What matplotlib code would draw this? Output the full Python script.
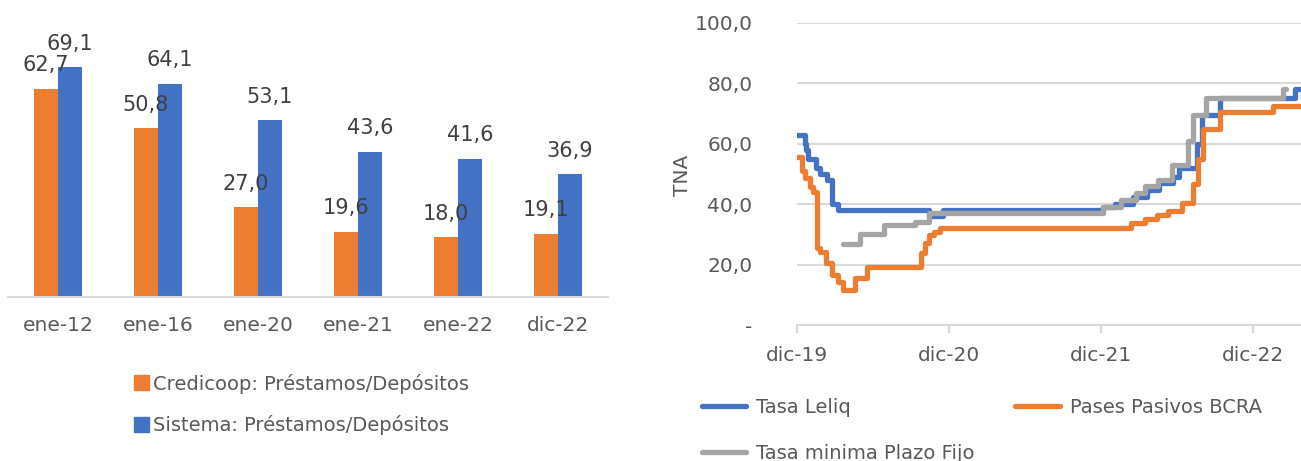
import matplotlib.pyplot as plt
from matplotlib.patches import Patch

# Left chart: loans / deposits ratio
categorias = ['ene-12', 'ene-16', 'ene-20', 'ene-21', 'ene-22', 'dic-22']
credicoop = [62.7, 50.8, 27.0, 19.6, 18.0, 19.1]
sistema = [69.1, 64.1, 53.1, 43.6, 41.6, 36.9]

# Right chart: rates (months counted from dic-19)
leliq_mes = [0, 0.6, 0.75, 0.9, 1.5, 1.8, 2.4, 2.8, 3.2, 10.4, 11.55, 24.2, 25.1,
             26.5, 27.6, 28.6, 29.7, 30.2, 31.6, 32.0, 33.4, 39.3, 39.8]
leliq_tna = [63, 60, 58, 55, 52, 50, 48, 40, 38, 36, 38, 39, 40,
             42.5, 44.5, 47, 49, 52, 60, 69.5, 75, 78, 78]

pases_mes = [0, 0.4, 0.6, 1.0, 1.3, 1.6, 1.8, 2.3, 2.8, 3.2, 3.6, 4.6, 5.5, 9.8,
             10.1, 10.4, 10.8, 11.3, 26.4, 27.5, 28.4, 29.3, 30.4, 31.3, 31.7,
             32.1, 33.4, 37.6, 39.8]
pases_tna = [55.5, 51, 48.5, 45.5, 44, 25.5, 24, 20.5, 16.5, 14.3, 11.6, 15.4, 19.3, 23.8,
             27, 29.8, 30.9, 32, 33.6, 34.9, 36.4, 37.8, 40.2, 46.8, 55,
             65, 70.5, 72.5, 72.5]

pf_mes = [3.65, 5.0, 6.9, 9.3, 10.4, 24.2, 25.6, 26.8, 27.5, 28.5, 29.6, 30.9,
          31.3, 32.3, 38.4, 38.65]
pf_tna = [26.8, 30.2, 33, 34.2, 37, 39, 41.5, 43.5, 46, 48, 53, 61,
          69.5, 75, 78, 78]

x_ticks = [0, 12, 24, 36]
x_labels = ['dic-19', 'dic-20', 'dic-21', 'dic-22']
y_ticks = [0, 20, 40, 60, 80, 100]
y_labels = ['-', '20,0', '40,0', '60,0', '80,0', '100,0']

NARANJA = '#ED7D31'
AZUL = '#4472C4'
GRIS = '#A5A5A5'
TXT = '#595959'

plt.rcParams['font.family'] = 'DejaVu Sans'

fig = plt.figure(figsize=(13.01, 4.61), dpi=100)

# ---- bar chart ----
ax1 = fig.add_axes([8 / 1301, (461 - 297) / 461, 600 / 1301, 297 / 461])
pos = list(range(len(categorias)))
w = 0.24
b1 = ax1.bar([p - w / 2 for p in pos], credicoop, w, color=NARANJA)
b2 = ax1.bar([p + w / 2 for p in pos], sistema, w, color=AZUL)
for bars, vals in ((b1, credicoop), (b2, sistema)):
    for rect, v in zip(bars, vals):
        ax1.annotate(f'{v:.1f}'.replace('.', ','),
                     (rect.get_x() + rect.get_width() / 2, rect.get_height()),
                     xytext=(0, 17), textcoords='offset points',
                     ha='center', va='center', fontsize=15, color='#404040')
ax1.set_xlim(-0.5, 5.5)
ax1.set_ylim(0, 89.35)
ax1.set_xticks(pos)
ax1.set_xticklabels(categorias, fontsize=14.5, color=TXT)
ax1.tick_params(axis='x', length=0, pad=14)
ax1.set_yticks([])
for s in ('top', 'right', 'left'):
    ax1.spines[s].set_visible(False)
ax1.spines['bottom'].set_color('#D9D9D9')
ax1.spines['bottom'].set_linewidth(1.5)

fig.legend(handles=[Patch(color=NARANJA, label='Credicoop: Préstamos/Depósitos'),
                    Patch(color=AZUL, label='Sistema: Préstamos/Depósitos')],
           loc='upper left', bbox_to_anchor=(116 / 1301, 1 - 356 / 461),
           frameon=False, fontsize=14, labelcolor=TXT,
           handlelength=0.8, handleheight=0.8, handletextpad=0.2, labelspacing=1.1)

# ---- rates chart ----
ax2 = fig.add_axes([797 / 1301, (461 - 325) / 461, 504 / 1301, (325 - 22.7) / 461])
estilo = dict(lw=3.8, drawstyle='steps-post', solid_capstyle='round', solid_joinstyle='round')
l1, = ax2.plot(leliq_mes, leliq_tna, color=AZUL, label='Tasa Leliq', **estilo)
l2, = ax2.plot(pases_mes, pases_tna, color=NARANJA, label='Pases Pasivos BCRA', **estilo)
l3, = ax2.plot(pf_mes, pf_tna, color=GRIS, label='Tasa minima Plazo Fijo', **estilo)
ax2.set_xlim(0, 39.8)
ax2.set_ylim(0, 100)
ax2.set_yticks(y_ticks)
ax2.set_yticklabels(y_labels, fontsize=14.5, color=TXT)
ax2.set_xticks(x_ticks)
ax2.set_xticklabels(x_labels, fontsize=14.5, color=TXT)
ax2.tick_params(axis='y', length=0, pad=32)
ax2.tick_params(axis='x', length=6, color='#D9D9D9', width=1.5, pad=9)
ax2.grid(axis='y', color='#D9D9D9', lw=1.5)
ax2.set_axisbelow(True)
for s in ('top', 'right', 'left'):
    ax2.spines[s].set_visible(False)
ax2.spines['bottom'].set_color('#D9D9D9')
ax2.spines['bottom'].set_linewidth(1.5)
fig.text(683 / 1301, 1 - 175 / 461, 'TNA', rotation=90, ha='center', va='center',
         fontsize=14.5, color=TXT)

fig.legend(handles=[l1, l3, l2], ncol=2, loc='upper left',
           bbox_to_anchor=(684 / 1301, 1 - 380 / 461), frameon=False,
           fontsize=14, labelcolor=TXT, handlelength=2.3, handletextpad=0.5,
           columnspacing=2.1, labelspacing=1.4)

fig.savefig('out.png', dpi=100)
